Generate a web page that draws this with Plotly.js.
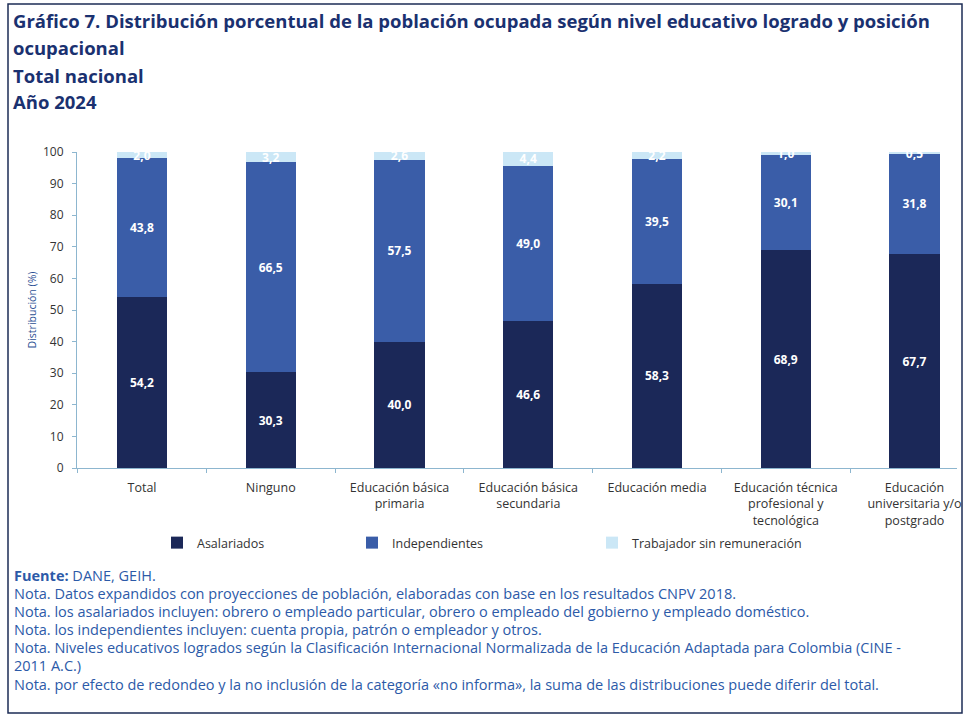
<!DOCTYPE html>
<html>
<head>
<meta charset="utf-8">
<script src="https://cdn.plot.ly/plotly-3.0.1.min.js"></script>
<style>
  html, body { margin: 0; padding: 0; background: #ffffff; }
  #chart { width: 966px; height: 718px; }
</style>
</head>
<body>
<div id="chart"></div>
<script>
// ---------- DATA ----------
const categories = [
  'Total',
  'Ninguno',
  'Educación básica<br>primaria',
  'Educación básica<br>secundaria',
  'Educación media',
  'Educación técnica<br>profesional y<br>tecnológica',
  'Educación<br>universitaria y/o<br>postgrado'
];
const asalariados     = [54.2, 30.3, 40.0, 46.6, 58.3, 68.9, 67.7];
const independientes  = [43.8, 66.5, 57.5, 49.0, 39.5, 30.1, 31.8];
const sinRemuneracion = [2.0, 3.2, 2.6, 4.4, 2.2, 1.0, 0.5];
const seriesNames = ['Asalariados', 'Independientes', 'Trabajador sin remuneración'];
const yTickVals = [0, 10, 20, 30, 40, 50, 60, 70, 80, 90, 100];

const titleLines = [
  'Gráfico 7. Distribución porcentual de la población ocupada según nivel educativo logrado y posición',
  'ocupacional',
  'Total nacional',
  'Año 2024'
];
const noteLines = [
  '<b>Fuente:</b> DANE, GEIH.',
  'Nota. Datos expandidos con proyecciones de población, elaboradas con base en los resultados CNPV 2018.',
  'Nota. los asalariados incluyen: obrero o empleado particular, obrero o empleado del gobierno y empleado doméstico.',
  'Nota. los independientes incluyen: cuenta propia, patrón o empleador y otros.',
  'Nota. Niveles educativos logrados según la Clasificación Internacional Normalizada de la Educación Adaptada para Colombia (CINE -',
  '2011 A.C.)',
  'Nota. por efecto de redondeo y la no inclusión de la categoría «no informa», la suma de las distribuciones puede diferir del total.'
];

// ---------- STYLE ----------
const W = 966, H = 718;
const M = { l: 77, r: 9, t: 152, b: 250 };
const PW = W - M.l - M.r, PH = H - M.t - M.b;
const px2x = px => (px - M.l) / PW;
const py2y = py => (H - M.b - py) / PH;

const colors = ['#1b2858', '#3a5da8', '#cbe7f6'];
const FONT = 'Open Sans, sans-serif';
const fmt = v => v.toFixed(1).replace('.', ',');

const seriesValues = [asalariados, independientes, sinRemuneracion];
const legendIds = ['legend', 'legend2', 'legend3'];

const traces = seriesValues.map((vals, i) => ({
  type: 'bar',
  name: seriesNames[i],
  x: categories,
  y: vals,
  width: 0.39,
  marker: { color: colors[i], line: { width: 0 } },
  text: vals.map(fmt),
  textposition: 'inside',
  insidetextanchor: 'middle',
  constraintext: 'none',
  textangle: 0,
  textfont: { family: FONT, size: 12, color: '#ffffff', weight: 'bold' },
  hoverinfo: 'x+y+name',
  legend: legendIds[i]
}));

const annotations = [];
const titleY = [20, 47, 75, 101];
titleLines.forEach((t, i) => {
  annotations.push({
    xref: 'paper', yref: 'paper',
    x: px2x(11), y: py2y(titleY[i]),
    xanchor: 'left', yanchor: 'middle',
    text: '<b>' + t + '</b>', showarrow: false,
    font: { family: FONT, size: 18.5, color: '#1a3170' }
  });
});
const noteY = [575, 593, 611, 629, 647, 665, 684];
noteLines.forEach((t, i) => {
  annotations.push({
    xref: 'paper', yref: 'paper',
    x: px2x(12), y: py2y(noteY[i]),
    xanchor: 'left', yanchor: 'middle',
    text: t, showarrow: false,
    font: { family: FONT, size: 14.5, color: '#2c5aa8' }
  });
});

const legendX = [157, 352, 592];
const legendCommon = {
  orientation: 'h', yanchor: 'middle', xanchor: 'left',
  bgcolor: 'rgba(0,0,0,0)',
  font: { family: FONT, size: 12.5, color: '#333333' }
};

const layout = {
  width: W, height: H,
  margin: M,
  paper_bgcolor: '#ffffff',
  plot_bgcolor: '#ffffff',
  barmode: 'stack',
  showlegend: true,
  legend:  Object.assign({}, legendCommon, { x: px2x(legendX[0]), y: py2y(543) }),
  legend2: Object.assign({}, legendCommon, { x: px2x(legendX[1]), y: py2y(543) }),
  legend3: Object.assign({}, legendCommon, { x: px2x(legendX[2]), y: py2y(543) }),
  xaxis: {
    type: 'category',
    range: [-0.505, 6.33],
    showline: true, linecolor: '#8db6cf', linewidth: 1,
    ticks: 'outside', tickson: 'boundaries', ticklen: 4, tickcolor: '#8db6cf',
    ticklabelstandoff: 8,
    showgrid: false, zeroline: false,
    tickfont: { family: FONT, size: 12.5, color: '#333333' },
    automargin: false
  },
  yaxis: {
    range: [0, 100],
    tickvals: yTickVals,
    showline: true, linecolor: '#8db6cf', linewidth: 1,
    ticks: 'outside', ticklen: 4, tickcolor: '#8db6cf',
    ticklabelstandoff: 6,
    showgrid: false, zeroline: false,
    tickfont: { family: FONT, size: 12, color: '#333333' },
    title: { text: 'Distribución (%)', standoff: 4, font: { family: FONT, size: 10.5, color: '#2c4f94' } },
    automargin: false
  },
  annotations: annotations,
  shapes: [{
    type: 'rect', xref: 'paper', yref: 'paper',
    x0: px2x(8), x1: px2x(962), y0: py2y(713), y1: py2y(4),
    line: { color: '#1d2c55', width: 1.5 }, fillcolor: 'rgba(0,0,0,0)'
  }]
};

Plotly.newPlot('chart', traces, layout, { displayModeBar: false, responsive: false });
</script>
</body>
</html>
